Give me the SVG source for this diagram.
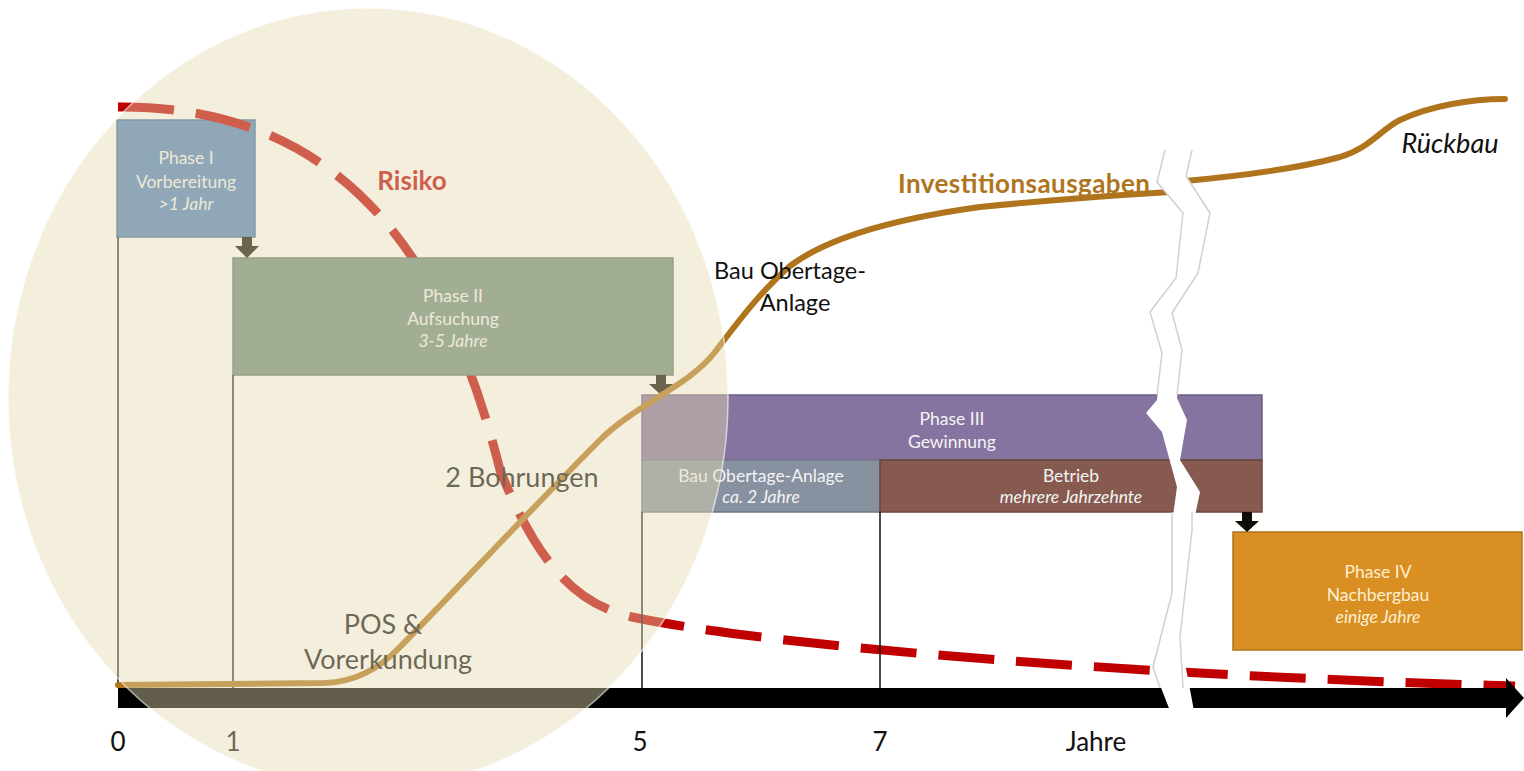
<svg xmlns="http://www.w3.org/2000/svg" width="1524" height="771" viewBox="0 0 1524 771">
<style>
text{font-family:Lato,"Open Sans","Liberation Sans",sans-serif}
.bt{fill:#F4F4F4;font-size:17.5px;text-anchor:middle}
.it{font-style:italic}
.vl{stroke:#111;stroke-width:1.5;fill:none}
.arr{fill:#0E0C07}
.big{font-size:27px;fill:#111;text-anchor:middle}
.tick{font-size:26px;fill:#111;text-anchor:middle}
.brk{fill:none;stroke:#D0D0D0;stroke-width:1.5}
</style>
<rect width="1524" height="771" fill="#fff"/>

<g id="node-phase1">
<rect x="117" y="120" width="138" height="117" fill="#4F81BD" stroke="#3E6A9C" stroke-width="1.5"/>
<text class="bt" x="186" y="164">Phase I</text>
<text class="bt" x="186" y="188">Vorbereitung</text>
<text class="bt it" x="186" y="210">&gt;1 Jahr</text>
</g>

<g id="risk-curve">
<path d="M118,107 C350,105 450,270 500,470 C540,570 580,605 632,617 C780,648 1150,676 1515,686" fill="none" stroke="#C00000" stroke-width="9" stroke-dasharray="56 22"/>
</g>

<g id="node-phase2">
<rect x="233" y="258" width="440" height="117" fill="#708E7D" stroke="#5C7766" stroke-width="1.5"/>
<text class="bt" x="453" y="302">Phase II</text>
<text class="bt" x="453" y="325">Aufsuchung</text>
<text class="bt it" x="453" y="347">3-5 Jahre</text>
</g>

<g id="node-phase3">
<rect x="642" y="395" width="620" height="65" fill="#8674A0" stroke="#6E5D88" stroke-width="1.5"/>
<text class="bt" x="952" y="425">Phase III</text>
<text class="bt" x="952" y="448">Gewinnung</text>
</g>

<g id="node-bau">
<rect x="642" y="460" width="238" height="52" fill="#8791A0" stroke="#6F7888" stroke-width="1.5"/>
<text class="bt" x="761" y="482">Bau Obertage-Anlage</text>
<text class="bt it" x="761" y="503">ca. 2 Jahre</text>
</g>

<g id="node-betrieb">
<rect x="880" y="460" width="382" height="52" fill="#875A50" stroke="#6E463D" stroke-width="1.5"/>
<text class="bt" x="1071" y="482">Betrieb</text>
<text class="bt it" x="1071" y="503">mehrere Jahrzehnte</text>
</g>

<g id="node-phase4">
<rect x="1233" y="532" width="289" height="118" fill="#DA8F22" stroke="#B0741C" stroke-width="1.5"/>
<text class="bt" x="1378" y="578" style="fill:#FDEFD2">Phase IV</text>
<text class="bt" x="1378" y="601" style="fill:#FDEFD2">Nachbergbau</text>
<text class="bt it" x="1378" y="623" style="fill:#FDEFD2">einige Jahre</text>
</g>

<g id="connectors">
<line class="vl" x1="118" y1="237" x2="118" y2="688"/>
<line class="vl" x1="233" y1="375" x2="233" y2="688"/>
<line class="vl" x1="642" y1="512" x2="642" y2="688"/>
<line class="vl" x1="880" y1="512" x2="880" y2="688"/>
<polygon class="arr" points="242,237 252,237 252,246 259,246 247,258 235,246 242,246"/>
<polygon class="arr" points="656,375 666,375 666,384 673,384 661,395 649,384 656,384"/>
<polygon class="arr" points="1242,512 1252,512 1252,521 1259,521 1247,532 1235,521 1242,521"/>
</g>

<g id="invest-curve" fill="none" stroke="#B0741C" stroke-width="6" stroke-linecap="round">
<path d="M118,685 L325,683 C355,682 380,668 400,647 C470,575 540,500 600,440 C635,405 690,385 715,352 C738,322 760,292 790,266 C830,236 900,218 980,207 C1060,199 1120,195 1170,192"/>
<path d="M1185,181 C1240,176 1300,168 1340,157 C1370,148 1380,130 1400,120 C1430,106 1470,99 1505,99"/>
</g>

<g id="labels">
<text x="412" y="190" style="font-size:26px;font-weight:bold;fill:#C00000;text-anchor:middle">Risiko</text>
<text x="898" y="193" textLength="252" style="font-size:26px;font-weight:bold;fill:#B0741C">Investitionsausgaben</text>
<text x="1450" y="153" style="font-size:27px;font-style:italic;fill:#111;text-anchor:middle">Rückbau</text>
<text class="big" x="790" y="279" style="font-size:23.5px">Bau Obertage-</text>
<text class="big" x="795" y="311" style="font-size:23.5px">Anlage</text>
<text class="big" x="522" y="487">2 Bohrungen</text>
<text class="big" x="383" y="634">POS &amp;</text>
<text class="big" x="388" y="669">Vorerkundung</text>
</g>

<g id="axis">
<rect x="118" y="688" width="1392" height="20" fill="#000"/>
<polygon points="1506,678 1524,698 1506,718" fill="#000"/>
<text class="tick" x="118" y="751">0</text>
<text class="tick" x="233" y="751">1</text>
<text class="tick" x="640" y="751">5</text>
<text class="tick" x="880" y="751">7</text>
<text class="tick" x="1096" y="751">Jahre</text>
</g>

<ellipse id="overlay" cx="368" cy="398" rx="360" ry="390" fill="#E6D9B0" fill-opacity="0.43" stroke="#fff" stroke-opacity="0.6" stroke-width="1.5"/>

<g id="break">
<polygon fill="#fff" points="1165,150 1157,182 1183,213 1176,278 1150,312 1162,353 1157,400 1146,413 1162,432 1177,487 1172,523 1172,593 1153,667 1172,716 1195,716 1180,637 1192,530 1200,492 1180,460 1187,420 1177,398 1182,350 1172,313 1198,273 1210,213 1186,176 1192,150"/>
<polyline class="brk" points="1165,150 1157,182 1183,213 1176,278 1150,312 1162,353 1157,395"/>
<polyline class="brk" points="1192,150 1186,176 1210,213 1198,273 1172,313 1182,350 1177,395"/>
<polyline class="brk" points="1172,512 1172,593 1153,667 1160,688"/>
<polyline class="brk" points="1192,512 1192,530 1180,637 1183,688"/>
</g>
</svg>
